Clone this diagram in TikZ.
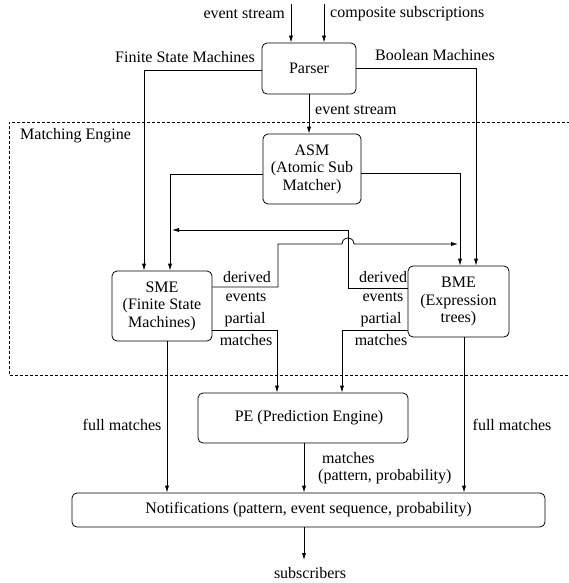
\documentclass[tikz,border=0pt]{standalone}
\usepackage{fontspec}
\setmainfont{Liberation Serif}
\usetikzlibrary{arrows.meta,calc}
\begin{document}
\begin{tikzpicture}[x=1pt,y=-1pt,
  every node/.style={font=\fontsize{16}{17.5}\selectfont},
  box/.style={draw, rounded corners=5pt, line width=0.8pt, align=center, inner sep=0pt},
  arr/.style={-{Latex[length=7pt,width=4.2pt]}, line width=0.8pt},
  ln/.style={line width=0.8pt},
  lbl/.style={inner sep=0pt}]
\useasboundingbox (0,0) rectangle (568,583);
% boxes
\node[box, minimum width=94pt, minimum height=51pt] (parser) at (309,68.5) {Parser};
\node[box, minimum width=98pt, minimum height=70pt] (asm) at (312,169) {ASM\\(Atomic Sub\\Matcher)};
\node[box, minimum width=100pt, minimum height=70pt] (sme) at (162,306) {SME\\(Finite State\\Machines)};
\node[box, minimum width=101pt, minimum height=71pt] (bme) at (458.5,301.5) {BME\\(Expression\\trees)};
\node[box, minimum width=210pt, minimum height=50pt] (pe) at (303,418) {\hspace*{12pt}PE (Prediction Engine)};
\node[box, minimum width=473pt, minimum height=34pt] (notif) at (308.5,510) {Notifications (pattern, event sequence, probability)};
% labels
\node[lbl, anchor=east] (es1) at (285,14) {event stream};
\node[lbl, anchor=west] (cs) at (330,14) {composite subscriptions};
\node[lbl] (fsm) at (185,57) {Finite State Machines};
\node[lbl] (bm) at (435,55) {Boolean Machines};
\node[lbl, anchor=west] (es2) at (315,110) {event stream};
\node[lbl, anchor=west] (me) at (20,136) {Matching Engine};
\node[lbl] (d1) at (247,277) {derived};
\node[lbl] (e1) at (246,297) {events};
\node[lbl] (p1) at (245,320) {partial};
\node[lbl] (m1) at (246,340) {matches};
\node[lbl] (d2) at (383,277) {derived};
\node[lbl] (e2) at (383,297) {events};
\node[lbl] (p2) at (381,320) {partial};
\node[lbl] (m2) at (381,340) {matches};
\node[lbl] (fm1) at (122,425) {full matches};
\node[lbl] (fm2) at (512,425) {full matches};
\node[lbl, anchor=west] (mt) at (322,458) {matches};
\node[lbl, anchor=west] (pp) at (318,477) {(pattern, probability)};
\node[lbl] (subs) at (310,573) {subscribers};
% free ends
\coordinate (in1) at (291,4);
\coordinate (in2) at (324,4);
\coordinate (out) at (304,560);
\coordinate (fbL) at (172,230);
\coordinate (fbR) at (458,244);
% dashed matching engine frame
\draw[dash pattern=on 3pt off 2pt, line width=0.7pt] (575,122) -- (9,122) -- (9,375) -- (575,375);
% inputs
\draw[arr] (in1) -- (in1 |- parser.north);
\draw[arr] (in2) -- (in2 |- parser.north);
% parser outputs
\draw[arr] ([yshift=-2pt]parser.west) -| ([xshift=-18pt]sme.north);
\draw[arr] ([yshift=0.5pt]parser.east) -| ([xshift=17.5pt]bme.north);
\draw[arr] (parser.south) -- (parser.south |- asm.north);
% asm outputs
\draw[arr] ([yshift=-5pt]asm.west) -| ([xshift=8pt]sme.north);
\draw[arr] ([yshift=-4pt]asm.east) -| ([xshift=1.5pt]bme.north);
% derived events
\draw[arr] ([yshift=13.5pt]bme.west) -- (348,288) -- (348,230) -- (fbL);
\draw[arr] ([yshift=19pt]sme.east) -- (278,287) -- (278,244) -- (342,244)
  arc[start angle=180, end angle=0, radius=6pt] -- (fbR);
% partial matches
\draw[arr] ([yshift=-24pt]sme.east) -| ([xshift=-26pt]pe.north);
\draw[arr] ([yshift=-28.5pt]bme.west) -| ([xshift=39pt]pe.north);
% full matches
\draw[arr] ([xshift=5pt]sme.south) -- ([xshift=5pt]sme.south |- notif.north);
\draw[arr] ([xshift=5.5pt]bme.south) -- ([xshift=5.5pt]bme.south |- notif.north);
% pe output
\draw[arr] ([xshift=1pt]pe.south) -- ([xshift=1pt]pe.south |- notif.north);
% subscribers
\draw[arr] (out |- notif.south) -- (out);
\end{tikzpicture}
\end{document}
